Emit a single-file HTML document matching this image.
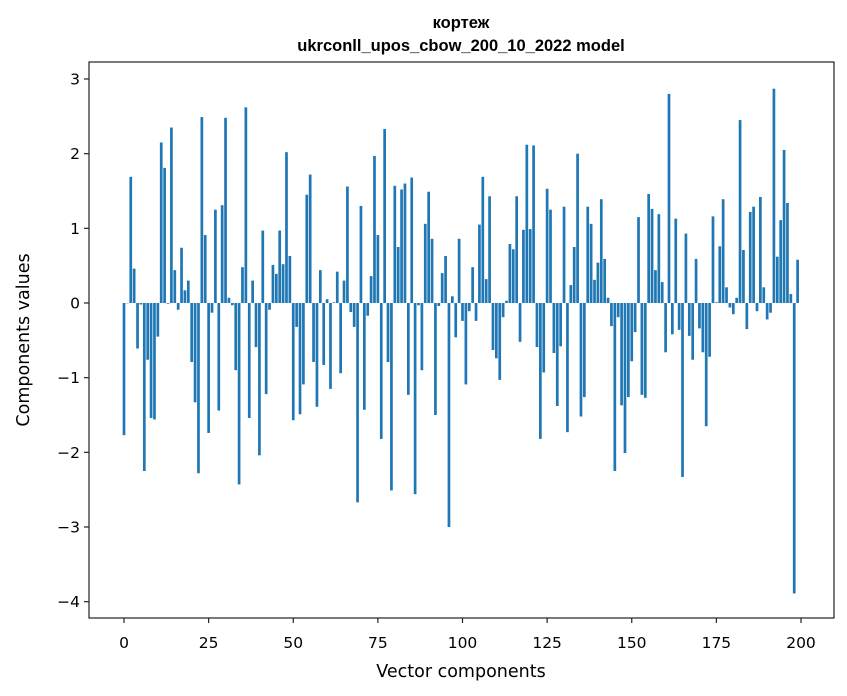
<!DOCTYPE html>
<html><head><meta charset="utf-8"><style>
html,body{margin:0;padding:0;background:#fff;}
svg{display:block;}
text{font-family:"DejaVu Sans","Liberation Sans",sans-serif;fill:#000;}
</style></head><body>
<svg id="chart" width="847" height="696" viewBox="0 0 847 696" xmlns="http://www.w3.org/2000/svg">
<rect x="0" y="0" width="847" height="696" fill="#fff"/>
<text x="461" y="28" text-anchor="middle" style="font-family:'Liberation Sans',sans-serif;font-weight:bold;font-size:16.5px">кортеж</text>
<text x="461" y="51" text-anchor="middle" style="font-family:'Liberation Sans',sans-serif;font-weight:bold;font-size:16.5px">ukrconll_upos_cbow_200_10_2022 model</text>
<g id="bars"></g>
<g id="axes"></g>
<text x="461" y="677" text-anchor="middle" font-size="17.5">Vector components</text>
<text transform="translate(29,340) rotate(-90)" text-anchor="middle" font-size="17.5">Components values</text>
</svg>
<script>
const values = [
-1.77,0.0,1.69,0.46,-0.61,-0.02,-2.25,-0.76,-1.54,-1.56,
-0.45,2.15,1.81,-0.01,2.35,0.44,-0.09,0.74,0.17,0.30,
-0.79,-1.33,-2.28,2.49,0.91,-1.74,-0.13,1.25,-1.44,1.31,
2.48,0.07,-0.03,-0.90,-2.43,0.48,2.62,-1.54,0.30,-0.59,
-2.04,0.97,-1.22,-0.09,0.51,0.39,0.97,0.52,2.02,0.63,
-1.57,-0.32,-1.49,-1.09,1.45,1.72,-0.79,-1.39,0.44,-0.83,
0.05,-1.15,0.01,0.42,-0.94,0.30,1.56,-0.12,-0.32,-2.67,
1.30,-1.43,-0.17,0.36,1.97,0.91,-1.82,2.33,-0.79,-2.51,
1.57,0.75,1.52,1.60,-1.23,1.68,-2.56,-0.03,-0.90,1.06,
1.49,0.86,-1.50,-0.04,0.40,0.63,-3.00,0.09,-0.46,0.86,
-0.24,-1.09,-0.11,0.48,-0.24,1.05,1.69,0.32,1.43,-0.63,
-0.74,-1.03,-0.19,0.03,0.79,0.72,1.43,-0.52,0.98,2.12,
0.99,2.11,-0.59,-1.82,-0.93,1.53,1.25,-0.67,-1.38,-0.58,
1.29,-1.73,0.24,0.75,2.00,-1.52,-1.26,1.29,1.06,0.31,
0.54,1.39,0.59,0.07,-0.31,-2.25,-0.19,-1.37,-2.01,-1.26,
-0.78,-0.39,1.15,-1.23,-1.27,1.46,1.26,0.44,1.19,0.28,
-0.66,2.80,-0.42,1.13,-0.36,-2.33,0.93,-0.44,-0.76,0.59,
-0.34,-0.66,-1.65,-0.72,1.16,0.01,0.76,1.39,0.21,-0.06,
-0.15,0.07,2.45,0.71,-0.35,1.22,1.29,-0.11,1.42,0.21,
-0.22,-0.13,2.87,0.62,1.11,2.05,1.34,0.12,-3.89,0.58
];
const xTicks = [0,25,50,75,100,125,150,175,200];
const yTicks = [-4,-3,-2,-1,0,1,2,3];
const yTickLabels = ["\u22124","\u22123","\u22122","\u22121","0","1","2","3"];

const L=89,R=834,T=62,B=618;
const X0=124,X1=801; // x=0 and x=200
function xs(v){return X0+(X1-X0)*v/200;}
function ys(v){return 303+(79-303)*v/3;}
const NS="http://www.w3.org/2000/svg";
const bars=document.getElementById('bars');
const bw=(xs(1)-xs(0))*0.8;
values.forEach((v,i)=>{
  const r=document.createElementNS(NS,'rect');
  const y0=ys(0),y1=ys(v);
  r.setAttribute('x',xs(i)-bw/2);
  r.setAttribute('y',Math.min(y0,y1));
  r.setAttribute('width',bw);
  r.setAttribute('height',Math.max(Math.abs(y1-y0),0.3));
  r.setAttribute('fill','#1f77b4');
  
  
  bars.appendChild(r);
});
const axes=document.getElementById('axes');
const frame=document.createElementNS(NS,'rect');
frame.setAttribute('x',L);frame.setAttribute('y',T);
frame.setAttribute('width',R-L);frame.setAttribute('height',B-T);
frame.setAttribute('fill','none');frame.setAttribute('stroke','#222');frame.setAttribute('stroke-width','1.2');


axes.appendChild(frame);
xTicks.forEach(t=>{
  const x=xs(t);
  const l=document.createElementNS(NS,'line');
  l.setAttribute('x1',x);l.setAttribute('x2',x);l.setAttribute('y1',B);l.setAttribute('y2',B+5);
  l.setAttribute('stroke','#222');l.setAttribute('stroke-width','1.2');
  
  
  axes.appendChild(l);
  const tx=document.createElementNS(NS,'text');
  tx.setAttribute('x',x);tx.setAttribute('y',648);tx.setAttribute('text-anchor','middle');tx.setAttribute('font-size','15.5');
  tx.textContent=String(t);
  
  
  axes.appendChild(tx);
});
yTicks.forEach((t,i)=>{
  const y=ys(t);
  const l=document.createElementNS(NS,'line');
  l.setAttribute('x1',L-5);l.setAttribute('x2',L);l.setAttribute('y1',y);l.setAttribute('y2',y);
  l.setAttribute('stroke','#222');l.setAttribute('stroke-width','1.2');
  
  
  axes.appendChild(l);
  const tx=document.createElementNS(NS,'text');
  tx.setAttribute('x',L-9);tx.setAttribute('y',y+5.5);tx.setAttribute('text-anchor','end');tx.setAttribute('font-size','15.5');
  tx.textContent=yTickLabels[i];
  
  
  axes.appendChild(tx);
});
</script>
</body></html>
